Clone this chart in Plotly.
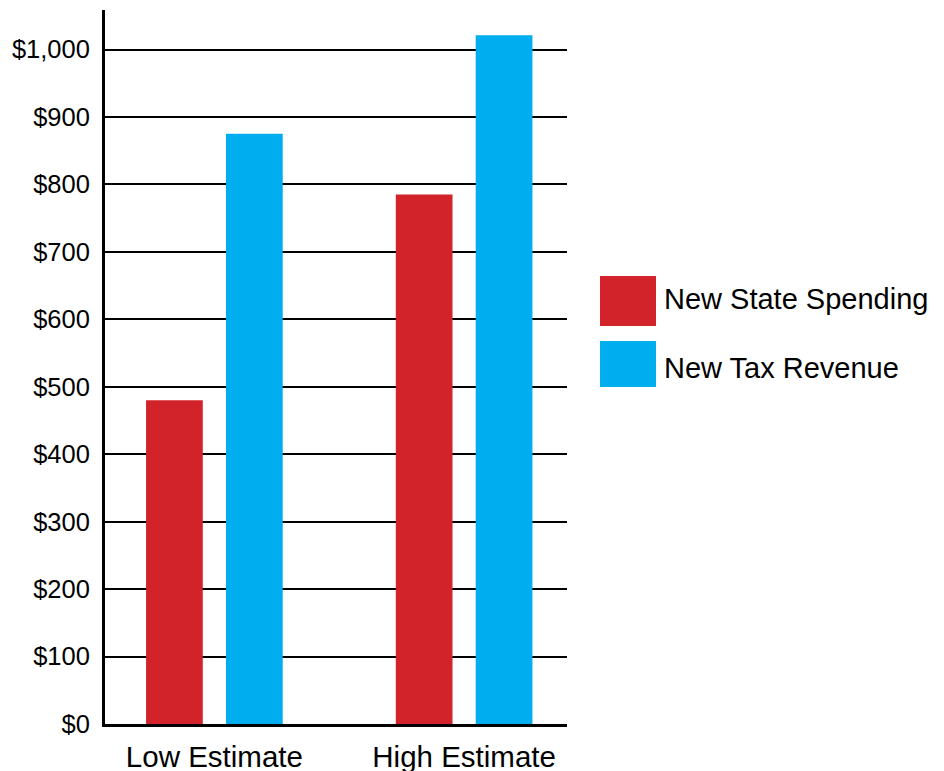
import plotly.graph_objects as go

categories = ["Low Estimate", "High Estimate"]
series_names = ["New State Spending", "New Tax Revenue"]
state_spending = [480, 785]
tax_revenue = [875, 1021]
colors = ["#D2232A", "#00AEEF"]
tick_values = [0, 100, 200, 300, 400, 500, 600, 700, 800, 900, 1000]
tick_labels = ["$0", "$100", "$200", "$300", "$400", "$500", "$600", "$700", "$800", "$900", "$1,000"]

OFF = 8  # default page body margin
W, H = 944 - OFF, 771 - OFF
# plot area in screen pixels: x 105..567, y 10..724
ML, MT = 105 - OFF, 10 - OFF
MR = W - (567 - OFF)
MB = H - (724 - OFF)
PW, PH = W - ML - MR, H - MT - MB

fig = go.Figure()
for name, vals, col in zip(series_names, [state_spending, tax_revenue], colors):
    fig.add_trace(go.Bar(x=categories, y=vals, name=name, marker_color=col,
                         marker_line_width=0, showlegend=False))

def px_x(p):
    return (p - OFF - ML) / PW

def px_y(p):
    return (H - MB - (p - OFF)) / PH

# legend drawn with large swatches
legend_rows = [(276, 326, 299), (341, 387, 368)]
for (top, bot, ty), name, col in zip(legend_rows, series_names, colors):
    fig.add_shape(type="rect", xref="paper", yref="paper",
                  x0=px_x(600), x1=px_x(656), y0=px_y(bot), y1=px_y(top),
                  fillcolor=col, line_width=0)
    fig.add_annotation(xref="paper", yref="paper", x=px_x(662), y=px_y(ty),
                       text=name, showarrow=False, xanchor="left", yanchor="middle",
                       font=dict(family="Liberation Sans, Arial", size=29, color="black"))

fig.update_layout(
    width=W, height=H,
    margin=dict(l=ML, r=MR, t=MT, b=MB, pad=0, autoexpand=False),
    paper_bgcolor="white", plot_bgcolor="white",
    barmode="group", bargap=0.36, bargroupgap=0.29,
    font=dict(family="Liberation Sans, Arial", color="black"),
)
fig.update_xaxes(range=[-0.438, 1.412], showgrid=False, showline=True,
                 linecolor="black", linewidth=3, ticks="", automargin=False,
                 tickfont=dict(size=29.5), ticklabelstandoff=5)
fig.update_yaxes(range=[0, 1058.6], tickvals=tick_values, ticktext=tick_labels,
                 showgrid=True, gridcolor="black", gridwidth=2, automargin=False,
                 showline=True, linecolor="black", linewidth=3, ticks="",
                 zeroline=False, tickfont=dict(size=25.5), ticklabelstandoff=7)

fig.write_html("out.html")
